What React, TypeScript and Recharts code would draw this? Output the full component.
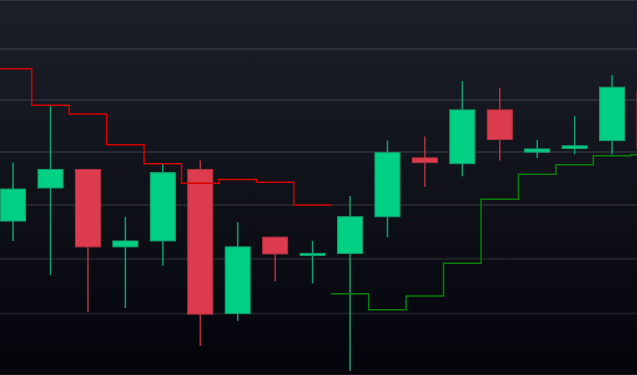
import { ComposedChart, Bar, Line, XAxis, YAxis, CartesianGrid } from "recharts";

// OHLC values, one per candle
const opens = [57700, 58320, 58670, 57220, 57330, 58670, 56000, 57400, 57080, 57100, 57780, 58890, 58780, 59810, 59000, 59070, 59220, 60180];
const highs = [58800, 59880, 58680, 57780, 58780, 58840, 57680, 57410, 57330, 58170, 59220, 59300, 60370, 60240, 59230, 59690, 60490, 60300];
const lows = [57330, 56700, 56030, 56100, 56870, 55420, 55870, 56590, 56550, 54970, 57400, 58340, 58540, 58840, 58890, 58960, 58960, 58900];
const closes = [58300, 58670, 57220, 57330, 58610, 55990, 57220, 57090, 57100, 57780, 58990, 58800, 59810, 59240, 59060, 59120, 60250, 59080];

// trailing stop levels (null where the side is inactive)
const upperStop = [60610, 59900, 59730, 59140, 58780, 58410, 58480, 58430, 58000, null, null, null, null, null, null, null, null, null];
const lowerStop = [null, null, null, null, null, null, null, null, null, 56360, 56070, 56320, 56920, 58110, 58580, 58760, 58930, 58950];

const priceTicks = [55000, 56000, 57000, 58000, 59000, 60000, 61000];

const candles = opens.map((o, i) => ({
  x: i,
  open: o,
  high: highs[i],
  low: lows[i],
  close: closes[i],
}));

// each stop value covers its whole candle slot, so points sit on the slot edges
function stepPoints(stops: (number | null)[]) {
  const pts: { x: number; v: number }[] = [];
  let last = -1;
  stops.forEach((v, i) => {
    if (v == null) return;
    pts.push({ x: i - 0.5, v });
    last = i;
  });
  if (last >= 0) pts.push({ x: last + 0.5, v: stops[last] as number });
  return pts;
}

const upperLine = stepPoints(upperStop);
const lowerLine = stepPoints(lowerStop);

const UP = "#00d084";
const UP_EDGE = "#159e6e";
const DOWN = "#dd3b4e";
const DOWN_EDGE = "#b3323f";
const BODY_W = 26;

function Candle(props: any) {
  const { x, y, width, height, payload } = props;
  if (!payload || x == null || y == null) return null;
  const { open, close, high, low } = payload;
  const top = Math.min(y, y + height);
  const span = Math.abs(height);
  const lh = Math.log(high);
  const ll = Math.log(low);
  // position inside the high/low range on the log price scale
  const toY = (v: number) => (lh === ll ? top : top + (span * (lh - Math.log(v))) / (lh - ll));
  const up = close >= open;
  const cx = x + width / 2;
  const yo = toY(open);
  const yc = toY(close);
  const bodyTop = Math.min(yo, yc);
  const bodyH = Math.max(Math.abs(yo - yc), 2);
  return (
    <g>
      <line x1={cx} x2={cx} y1={top} y2={top + span} stroke={up ? UP_EDGE : DOWN_EDGE} strokeWidth={1.5} />
      <rect
        x={cx - BODY_W / 2 + 0.5}
        y={bodyTop}
        width={BODY_W - 1}
        height={bodyH}
        fill={up ? UP : DOWN}
        stroke={up ? UP_EDGE : DOWN_EDGE}
        strokeWidth={1}
      />
    </g>
  );
}

export default function App() {
  return (
    <div
      style={{
        position: "fixed",
        left: 0,
        top: 0,
        width: 637,
        height: 375,
        overflow: "hidden",
        background: "linear-gradient(180deg, #1c1f2a 0%, #10121a 50%, #03040a 100%)",
      }}
    >
      <ComposedChart width={637} height={375} data={candles} margin={{ top: 0, right: 0, bottom: 0, left: 0 }}>
        <CartesianGrid vertical={false} stroke="rgba(255,255,255,0.09)" strokeWidth={2} />
        <XAxis dataKey="x" type="number" domain={[-0.347, 16.667]} allowDataOverflow hide />
        <YAxis
          type="number"
          scale="log"
          domain={[54899, 61973]}
          ticks={priceTicks}
          allowDataOverflow
          hide
        />
        <Bar
          dataKey={(d: any) => [d.low, d.high]}
          barSize={26}
          shape={<Candle />}
          isAnimationActive={false}
        />
        <Line
          data={upperLine}
          dataKey="v"
          type="stepAfter"
          stroke="#d40000"
          strokeWidth={1.5}
          dot={false}
          activeDot={false}
          isAnimationActive={false}
        />
        <Line
          data={lowerLine}
          dataKey="v"
          type="stepAfter"
          stroke="#0a7d0a"
          strokeWidth={1.5}
          dot={false}
          activeDot={false}
          isAnimationActive={false}
        />
      </ComposedChart>
    </div>
  );
}
